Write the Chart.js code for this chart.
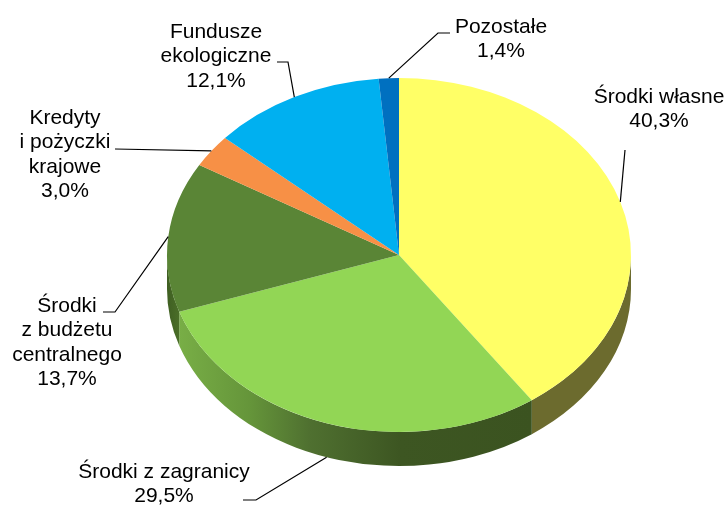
<!DOCTYPE html>
<html><head><meta charset="utf-8">
<style>html,body{margin:0;padding:0;background:#fff}canvas{display:block}</style>
<script src="https://cdn.jsdelivr.net/npm/chart.js@4"></script></head>
<body><canvas id="c" width="728" height="505"></canvas>
<script>
const categories = ["Środki własne","Środki z zagranicy","Środki z budżetu centralnego","Kredyty i pożyczki krajowe","Fundusze ekologiczne","Pozostałe"];
const values = [40.3,29.5,13.7,3.0,12.1,1.4];
const labelLines = [["Środki własne"],["Środki z zagranicy"],["Środki","z budżetu","centralnego"],["Kredyty","i pożyczki","krajowe"],["Fundusze","ekologiczne"],["Pozostałe"]];
const topColors = ["#FFFF66","#92D655","#5A8536","#F79046","#00B0F0","#0070C0"];
const sideStops = [
  [[0,"#6C6B2E"],[1,"#6C6B2E"]],
  [[0,"#3B5320"],[0.375,"#3D5622"],[0.63,"#4F7030"],[0.8,"#65953A"],[1,"#78AE46"]],
  [[0,"#4A6E28"],[1,"#3F5F22"]],
  [[0,"#A86030"],[1,"#A86030"]],
  [[0,"#00709A"],[1,"#00709A"]],
  [[0,"#004878"],[1,"#004878"]]
];
const labelCenters = [[659,97],[164,472],[67,306],[65,118],[216,32],[501,27]];
const elbows = [[[625,150]],[[243,500],[256,500]],[[103,312],[115,312]],[[115,149]],[[277,62],[288,62]],[[450,33],[438,33]]];
const squash = 177/232, depth = 34, lineStep = 24.5;

const pie3d = {
  id:'pie3d',
  beforeDatasetsDraw(chart){
    const ctx = chart.ctx, arcs = chart.getDatasetMeta(0).data;
    const cx = arcs[0].x, cy = arcs[0].y, rx = arcs[0].outerRadius, ry = rx*squash;
    ctx.save();
    arcs.forEach((a,i)=>{
      const from = Math.max(a.startAngle,0), to = Math.min(a.endAngle,Math.PI);
      if(to<=from) return;
      const x0 = cx+rx*Math.cos(from), x1 = cx+rx*Math.cos(to);
      const g = ctx.createLinearGradient(x0,0,x1,0);
      sideStops[i].forEach(s=>g.addColorStop(s[0],s[1]));
      ctx.beginPath();
      ctx.ellipse(cx,cy,rx,ry,0,from,to);
      ctx.ellipse(cx,cy+depth,rx,ry,0,to,from,true);
      ctx.closePath();
      ctx.fillStyle = g; ctx.fill();
    });
    ctx.translate(cx,cy); ctx.scale(1,squash); ctx.translate(-cx,-cy);
  },
  afterDatasetsDraw(chart){ chart.ctx.restore(); },
  afterDraw(chart){
    const ctx = chart.ctx, arcs = chart.getDatasetMeta(0).data;
    const cx = arcs[0].x, cy = arcs[0].y, rx = arcs[0].outerRadius, ry = rx*squash;
    ctx.save();
    ctx.strokeStyle = "#000"; ctx.lineWidth = 1.2;
    arcs.forEach((a,i)=>{
      const mid = (a.startAngle+a.endAngle)/2;
      let ax = cx+rx*Math.cos(mid), ay = cy+ry*Math.sin(mid);
      if(Math.sin(mid)>0) ay += depth;
      ctx.beginPath(); ctx.moveTo(ax,ay);
      elbows[i].slice().reverse().forEach(p=>ctx.lineTo(p[0],p[1]));
      ctx.stroke();
    });
    ctx.fillStyle = "#000"; ctx.font = "21px 'Liberation Sans'";
    ctx.textAlign = "center"; ctx.textBaseline = "middle";
    labelLines.forEach((lines,i)=>{
      const all = lines.concat([values[i].toFixed(1).replace('.',',')+'%']);
      all.forEach((t,k)=>ctx.fillText(t,labelCenters[i][0],labelCenters[i][1]+k*lineStep));
    });
    ctx.restore();
  }
};
new Chart(document.getElementById('c'),{
  type:'pie',
  data:{labels:categories,datasets:[{data:values,backgroundColor:topColors,borderWidth:0,clip:false}]},
  options:{responsive:false,animation:false,
    layout:{padding:{left:70,right:0,top:23,bottom:18}},
    plugins:{legend:{display:false},tooltip:{enabled:false}},events:[]},
  plugins:[pie3d]
});
</script></body></html>
